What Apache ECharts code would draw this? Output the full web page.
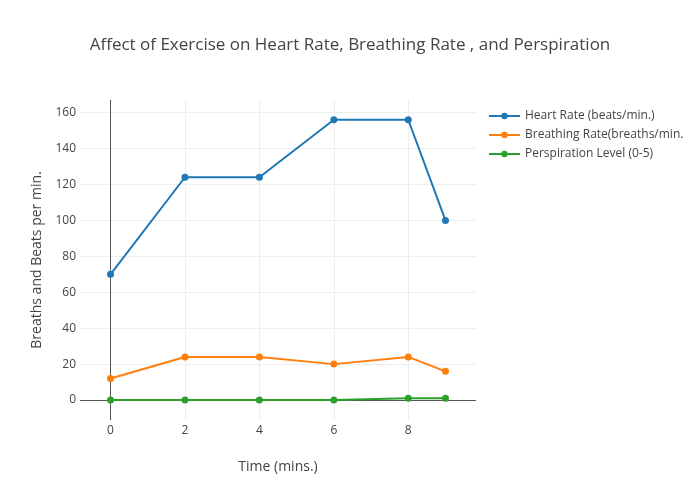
<!DOCTYPE html>
<html>
<head>
<meta charset="utf-8">
<script src="https://cdn.jsdelivr.net/npm/echarts@6/dist/echarts.min.js"></script>
<style>html,body{margin:0;padding:0;background:#fff}#c{width:700px;height:500px}</style>
</head>
<body>
<div id="c"></div>
<script>
const times = [0, 2, 4, 6, 8, 9];
const heartRate = [70, 124, 124, 156, 156, 100];
const breathingRate = [12, 24, 24, 20, 24, 16];
const perspiration = [0, 0, 0, 0, 1, 1];
const seriesNames = ['Heart Rate (beats/min.)', 'Breathing Rate(breaths/min.', 'Perspiration Level (0-5)'];
const colors = ['#1f77b4', '#ff7f0e', '#2ca02c'];

const font = '"Open Sans", "Noto Sans", sans-serif';
function pairs(ys) { return times.map((t, i) => [t, ys[i]]); }

const chart = echarts.init(document.getElementById('c'), null, {renderer: 'canvas'});
const mk = (name, ys, color, extra) => Object.assign({
  name: name, type: 'line', data: pairs(ys),
  symbol: 'circle', symbolSize: 7,
  lineStyle: {color: color, width: 2},
  itemStyle: {color: color, borderWidth: 0},
  animation: false
}, extra || {});

chart.setOption({
  animation: false,
  textStyle: {fontFamily: font},
  title: {
    text: 'Affect of Exercise on Heart Rate, Breathing Rate , and Perspiration',
    left: 'center', top: 32,
    textStyle: {fontFamily: font, fontSize: 17, fontWeight: 'normal', color: '#444'}
  },
  legend: {
    orient: 'vertical', left: 488, top: 109, padding: 0,
    itemWidth: 31, itemHeight: 8, itemGap: 5,
    textStyle: {fontFamily: font, fontSize: 12, color: '#444', lineHeight: 14},
    data: seriesNames
  },
  grid: {left: 80, right: 224, top: 100, bottom: 80, containLabel: false},
  xAxis: {
    type: 'value', min: -0.82, max: 9.82, splitNumber: 5,
    name: 'Time (mins.)', nameLocation: 'middle', nameGap: 40,
    nameTextStyle: {fontFamily: font, fontSize: 14, color: '#444'},
    axisLine: {show: false}, axisTick: {show: false},
    axisLabel: {showMinLabel: false, showMaxLabel: false, margin: 5, fontFamily: font, fontSize: 12, color: '#444'},
    splitLine: {show: true, showMinLine: false, showMaxLine: false, lineStyle: {color: '#eeeeee', width: 1}}
  },
  yAxis: {
    type: 'value', min: -11.1, max: 167, splitNumber: 9,
    name: 'Breaths and Beats per min.', nameLocation: 'middle', nameGap: 36,
    nameTextStyle: {fontFamily: font, fontSize: 14, color: '#444'},
    axisLine: {show: false}, axisTick: {show: false},
    axisLabel: {showMinLabel: false, showMaxLabel: false, margin: 4, fontFamily: font, fontSize: 12, color: '#444'},
    splitLine: {show: true, showMinLine: false, showMaxLine: false, lineStyle: {color: '#eeeeee', width: 1}}
  },
  series: [
    mk(seriesNames[0], heartRate, colors[0], {
      markLine: {
        z: 1, silent: true, symbol: 'none', label: {show: false}, animation: false,
        lineStyle: {color: '#555', width: 1, type: 'solid'},
        emphasis: {disabled: true},
        data: [{yAxis: 0}, {xAxis: 0}]
      }
    }),
    mk(seriesNames[1], breathingRate, colors[1]),
    mk(seriesNames[2], perspiration, colors[2])
  ]
});
</script>
</body>
</html>
